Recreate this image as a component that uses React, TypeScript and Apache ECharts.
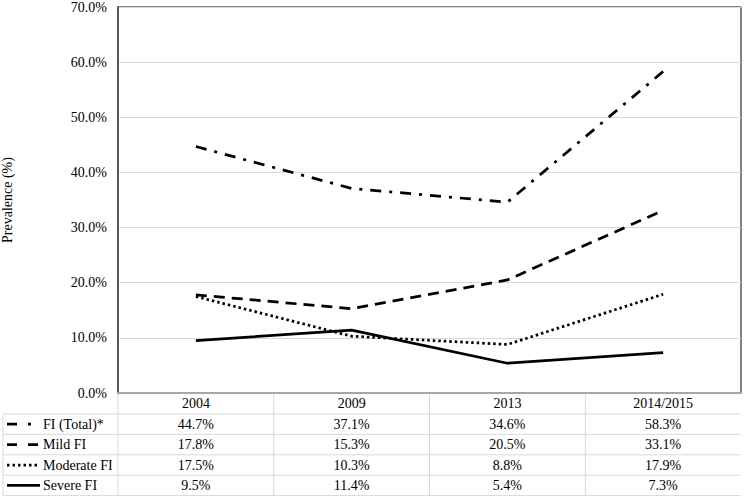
import React, { useEffect, useRef } from "react";
import * as echarts from "echarts";

// ---- data ----
const categories = ["2004", "2009", "2013", "2014/2015"];
const seriesNames = ["FI (Total)*", "Mild FI", "Moderate FI", "Severe FI"];
const fiTotal = [44.7, 37.1, 34.6, 58.3];
const mildFI = [17.8, 15.3, 20.5, 33.1];
const moderateFI = [17.5, 10.3, 8.8, 17.9];
const severeFI = [9.5, 11.4, 5.4, 7.3];
const yMin = 0;
const yMax = 70;
const yInterval = 10;
const yAxisTitle = "Prevalence (%)";

const seriesValues = [fiTotal, mildFI, moderateFI, severeFI];

// ---- styles / layout ----
const FONT = '"Liberation Serif", "Times New Roman", serif';
const FS = 14;
const lineDashes: any[] = [[11, 8, 3, 8], [11, 7], [2.5, 3], "solid"];
const keyDashes: any[] = [[10, 11, 3, 11], [10, 11], [2.5, 3], null];
const LW = 2.75;

const W = 746;
const H = 498;
const gridLeft = 118;
const gridRightX = 741;
const gridTop = 7;
const gridBottomY = 393;
const headerH = 21;
const rowH = 20.4;

export default function App() {
  const ref = useRef<HTMLDivElement>(null);

  useEffect(() => {
    if (!ref.current) return;
    const chart = echarts.init(ref.current, undefined, { renderer: "svg" });

    const fmt = (v: number) => v.toFixed(1) + "%";
    const labelStyle = {
      margin: headerH / 2,
      verticalAlign: "middle",
      color: "#000",
      fontFamily: FONT,
      fontSize: FS,
    };

    // one extra category axis per table row: the values sit at the category centres
    const tableAxes = seriesValues.map((vals, i) => ({
      type: "category",
      gridIndex: 0,
      position: "bottom",
      offset: headerH + rowH * (i + 0.5) - headerH / 2,
      data: vals.map(fmt),
      axisLine: { show: false },
      axisTick: { show: false },
      splitLine: { show: false },
      axisLabel: labelStyle,
    }));

    const tableTopRows = gridBottomY + headerH;
    const rowCenters = seriesNames.map((_, i) => tableTopRows + rowH * (i + 0.5));
    const tableBottom = tableTopRows + rowH * seriesNames.length;
    const colW = (gridRightX - gridLeft) / categories.length;

    const graphics: any[] = [];
    for (let i = 0; i <= seriesNames.length; i++) {
      const y = tableTopRows + rowH * i;
      graphics.push({
        type: "line",
        shape: { x1: 3, y1: y, x2: gridRightX, y2: y },
        style: { stroke: "#d9d9d9", lineWidth: 1 },
        silent: true,
      });
    }
    graphics.push({
      type: "line",
      shape: { x1: 3, y1: tableTopRows, x2: 3, y2: tableBottom },
      style: { stroke: "#d9d9d9", lineWidth: 1 },
    });
    for (let c = 0; c < categories.length; c++) {
      const x = gridLeft + colW * c;
      graphics.push({
        type: "line",
        shape: { x1: x, y1: gridBottomY, x2: x, y2: tableBottom },
        style: { stroke: "#d9d9d9", lineWidth: 1 },
      });
    }
    graphics.push({
      type: "line",
      shape: { x1: gridLeft, y1: gridTop, x2: gridRightX, y2: gridTop },
      style: { stroke: "#595959", lineWidth: 1.5 },
    });
    graphics.push({
      type: "line",
      shape: { x1: gridRightX, y1: gridTop, x2: gridRightX, y2: gridBottomY },
      style: { stroke: "#595959", lineWidth: 1.5 },
    });
    seriesNames.forEach((name, i) => {
      const cy = rowCenters[i];
      const dash = keyDashes[i];
      graphics.push({
        type: "line",
        shape: { x1: 7, y1: cy, x2: 40, y2: cy },
        style: dash
          ? { stroke: "#000", lineWidth: LW, lineDash: dash }
          : { stroke: "#000", lineWidth: LW },
      });
      graphics.push({
        type: "text",
        x: 43,
        y: cy,
        style: {
          text: name,
          fill: "#000",
          fontFamily: FONT,
          fontSize: FS,
          verticalAlign: "middle",
          align: "left",
        },
      });
    });

    chart.setOption({
      animation: false,
      backgroundColor: "#fff",
      grid: {
        left: gridLeft,
        right: W - gridRightX,
        top: gridTop,
        bottom: H - gridBottomY,
        containLabel: false,
        outerBoundsMode: "none",
      },
      xAxis: [
        {
          type: "category",
          data: categories,
          boundaryGap: true,
          axisLine: { show: true, lineStyle: { color: "#a6a6a6", width: 2 } },
          axisTick: { show: false },
          splitLine: { show: false },
          axisLabel: labelStyle,
          z: 5,
        },
        ...tableAxes,
      ],
      yAxis: {
        type: "value",
        min: yMin,
        max: yMax,
        interval: yInterval,
        name: yAxisTitle,
        nameLocation: "middle",
        nameGap: 104,
        nameTextStyle: { color: "#000", fontFamily: FONT, fontSize: FS },
        axisLine: { show: true, lineStyle: { color: "#595959", width: 2 } },
        axisTick: { show: false },
        splitLine: { show: true, lineStyle: { color: "#d9d9d9", width: 1 } },
        axisLabel: {
          margin: 11,
          color: "#000",
          fontFamily: FONT,
          fontSize: FS,
          formatter: (v: number) => v.toFixed(1) + "%",
        },
      },
      series: seriesNames.map((name, i) => ({
        name,
        type: "line",
        xAxisIndex: 0,
        data: seriesValues[i],
        showSymbol: false,
        symbol: "none",
        lineStyle: { color: "#000", width: LW, type: lineDashes[i], cap: "butt" },
        z: 3,
      })),
      graphic: graphics,
    });

    return () => chart.dispose();
  }, []);

  return (
    <div
      ref={ref}
      style={{ position: "fixed", left: 0, top: 0, width: W, height: H }}
    />
  );
}
